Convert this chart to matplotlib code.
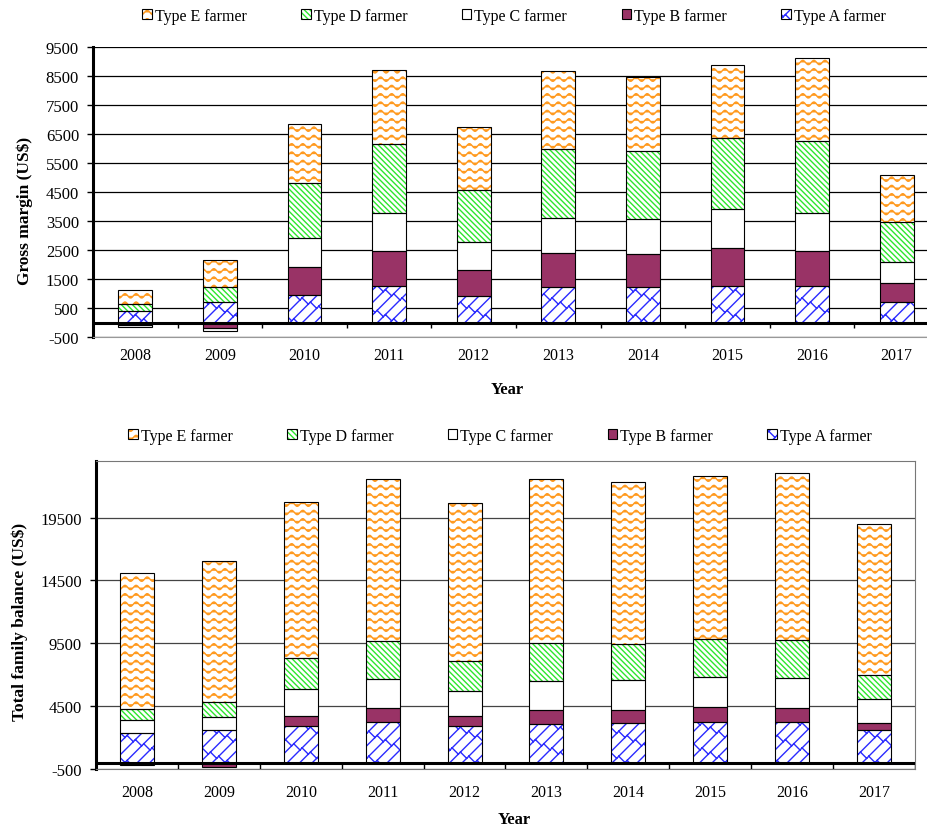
import warnings
import numpy as np
import matplotlib
matplotlib.use('Agg')
import matplotlib.pyplot as plt
from matplotlib import hatch as mhatch
from matplotlib.path import Path

warnings.filterwarnings('ignore')

years = [2008, 2009, 2010, 2011, 2012, 2013, 2014, 2015, 2016, 2017]
labels = ['Type A farmer', 'Type B farmer', 'Type C farmer', 'Type D farmer', 'Type E farmer']

# Gross margin (US$) per farmer type
gm_a = [400, 700, 950, 1250, 920, 1230, 1210, 1270, 1270, 720]
gm_b = [-100, -190, 950, 1210, 900, 1150, 1150, 1290, 1210, 650]
gm_c = [-60, -100, 1000, 1320, 970, 1220, 1210, 1360, 1290, 730]
gm_d = [240, 540, 1900, 2380, 1790, 2380, 2350, 2440, 2500, 1360]
gm_e = [480, 900, 2050, 2560, 2170, 2690, 2530, 2530, 2840, 1610]

# Total family balance (US$) per farmer type
tfb_a = [2330, 2620, 2890, 3210, 2890, 3070, 3130, 3210, 3210, 2620]
tfb_b = [-200, -320, 840, 1110, 790, 1140, 1080, 1190, 1110, 510]
tfb_c = [1080, 980, 2120, 2330, 2030, 2300, 2360, 2380, 2380, 1930]
tfb_d = [900, 1190, 2480, 3040, 2380, 3050, 2860, 3100, 3060, 1900]
tfb_e = [10790, 11240, 12380, 12890, 12570, 13020, 12880, 12960, 13290, 12040]

# styles A..E
faces = ['white', '#993366', 'white', 'white', 'white']
hatch_colors = ['#2a2aff', '#993366', 'white', '#2ee62e', '#ff9a1f']
hatches = ['b', None, None, '\\' * 6, '~']


# custom hatch patterns: wave (~) and diagonal brick (b)
class WaveHatch(mhatch.HatchPatternBase):
    def __init__(self, hatch, density):
        self.rows = 12 if '~' in hatch else 0
        self.pts = 91
        self.num_vertices = self.rows * self.pts

    def set_vertices_and_codes(self, vertices, codes):
        x = np.linspace(0, 1, self.pts)
        for i in range(self.rows):
            sl = slice(i * self.pts, (i + 1) * self.pts)
            vertices[sl, 0] = x
            vertices[sl, 1] = (i + 0.5) / self.rows + 0.022 * np.sin(2 * np.pi * 9 * x)
            codes[sl] = Path.LINETO
            codes[i * self.pts] = Path.MOVETO


class BrickHatch(mhatch.HatchPatternBase):
    def __init__(self, hatch, density):
        self.n = 8
        self.m = 6
        on = 'b' in hatch
        self.lines = list(range(-self.n, self.n + 1)) if on else []
        self.num_vertices = len(self.lines) * 2 + len(self.lines) * 3 * self.m * 2

    def set_vertices_and_codes(self, vertices, codes):
        n, m = self.n, self.m
        i = 0
        for k in self.lines:
            c = k / n
            vertices[i] = (-1, c - 1)
            vertices[i + 1] = (2, c + 2)
            codes[i] = Path.MOVETO
            codes[i + 1] = Path.LINETO
            i += 2
        d = 1 / (2 * n)
        for k in self.lines:
            c = k / n
            for j in range(-m, 2 * m):
                t = (j + 0.5 * (k % 2)) / m
                vertices[i] = (t, t + c)
                vertices[i + 1] = (t - d, t + c + d)
                codes[i] = Path.MOVETO
                codes[i + 1] = Path.LINETO
                i += 2


mhatch._hatch_types.append(WaveHatch)
mhatch._hatch_types.append(BrickHatch)

plt.rcParams['font.family'] = ['Liberation Serif', 'DejaVu Serif']
plt.rcParams['hatch.linewidth'] = 1.0
plt.rcParams['axes.unicode_minus'] = False


def draw_stack(ax, series, width):
    x = np.arange(len(years))
    pos = np.zeros(len(years))
    neg = np.zeros(len(years))
    handles = []
    for vals, fc, hc, ht in zip(series, faces, hatch_colors, hatches):
        vals = np.array(vals, dtype=float)
        base = np.where(vals >= 0, pos, neg)
        h1 = ax.bar(x, vals, width, bottom=base, color=fc, edgecolor=hc,
                    hatch=ht, linewidth=0, zorder=2)
        h2 = ax.bar(x, vals, width, bottom=base, fill=False,
                    edgecolor='black', linewidth=0.8, zorder=3)
        pos += np.where(vals >= 0, vals, 0)
        neg += np.where(vals < 0, vals, 0)
        handles.append((h1[0], h2[0]))
    return handles


fig = plt.figure(figsize=(9.28, 8.29), dpi=100)

# top chart: gross margin
ax1 = fig.add_axes([93 / 928, 1 - 338 / 829, 846 / 928, 290 / 829])
h = draw_stack(ax1, [gm_a, gm_b, gm_c, gm_d, gm_e], 0.40)
ax1.set_xlim(-0.5, len(years) - 0.5)
ax1.set_ylim(-500, 9500)
ax1.set_yticks(np.arange(-500, 9501, 1000))
ax1.yaxis.grid(True, color='black', linewidth=0.9)
ax1.set_axisbelow(True)
ax1.axhline(0, color='black', linewidth=2.2, zorder=4)
ax1.vlines(np.arange(len(years)) + 0.5, -180, 0, color='black', linewidth=1, zorder=4)
for s in ['top', 'right']:
    ax1.spines[s].set_visible(False)
ax1.spines['bottom'].set_color('#999999')
ax1.spines['left'].set_linewidth(2.2)
ax1.set_xticks(np.arange(len(years)))
ax1.set_xticklabels(years)
ax1.tick_params(axis='x', length=0, pad=7, labelsize=11.5)
ax1.tick_params(axis='y', length=4, width=1, pad=6, labelsize=12)
fig.text(25 / 928, 1 - 211 / 829, 'Gross margin (US$)', rotation=90, fontsize=12.5,
         fontweight='bold', ha='center', va='center')
fig.text(507 / 928, 1 - 390 / 829, 'Year', fontsize=12, fontweight='bold',
         ha='center', va='center')
fig.legend(h[::-1], labels[::-1], ncol=5, loc='center', bbox_to_anchor=(514 / 928, 1 - 17 / 829),
           frameon=False, handlelength=0.6, handleheight=0.6, handletextpad=0.2,
           columnspacing=3.4, fontsize=11.5)

# bottom chart: total family balance
ax2 = fig.add_axes([96 / 928, 1 - 770 / 829, 819 / 928, 308 / 829])
h2 = draw_stack(ax2, [tfb_a, tfb_b, tfb_c, tfb_d, tfb_e], 0.415)
ax2.set_xlim(-0.5, len(years) - 0.5)
ax2.set_ylim(-500, 24000)
ax2.set_yticks(np.arange(-500, 19501, 5000))
ax2.yaxis.grid(True, color='#444444', linewidth=0.9)
ax2.set_axisbelow(True)
ax2.axhline(0, color='black', linewidth=2.2, zorder=4)
ax2.vlines(np.arange(len(years)) + 0.5, -500, 0, color='black', linewidth=1, zorder=4)
for s in ['top', 'right', 'bottom']:
    ax2.spines[s].set_color('#777777')
ax2.spines['left'].set_linewidth(2.2)
ax2.set_xticks(np.arange(len(years)))
ax2.set_xticklabels(years)
ax2.tick_params(axis='x', length=0, pad=11, labelsize=11.5)
ax2.tick_params(axis='y', length=4, width=1, pad=6, labelsize=12)
fig.text(20 / 928, 1 - 622 / 829, 'Total family balance (US$)', rotation=90, fontsize=12.5,
         fontweight='bold', ha='center', va='center')
fig.text(514 / 928, 1 - 820 / 829, 'Year', fontsize=12, fontweight='bold',
         ha='center', va='center')
fig.legend(h2[::-1], labels[::-1], ncol=5, loc='center', bbox_to_anchor=(500 / 928, 1 - 437 / 829),
           frameon=False, handlelength=0.6, handleheight=0.6, handletextpad=0.2,
           columnspacing=3.4, fontsize=11.5)

fig.savefig('out.png', dpi=100)
